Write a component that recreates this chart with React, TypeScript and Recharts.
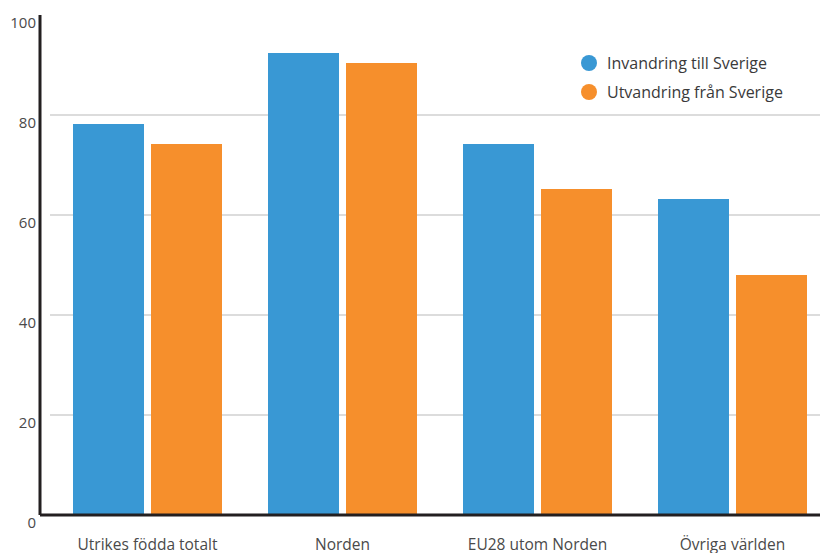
import React from 'react';
import { BarChart, Bar, XAxis, YAxis, CartesianGrid, Legend } from 'recharts';

const categories = ['Utrikes födda totalt', 'Norden', 'EU28 utom Norden', 'Övriga världen'];
const invandring = [78.2, 92.4, 74.2, 63.2];
const utvandring = [74.2, 90.4, 65.2, 48];
const yTicks = [0, 20, 40, 60, 80, 100];
const gridValues = [20, 40, 60, 80];
const seriesNames = ['Invandring till Sverige', 'Utvandring från Sverige'];

const data = categories.map((c, i) => ({ category: c, inv: invandring[i], utv: utvandring[i] }));

const FONT = '"Open Sans", sans-serif';
const BLUE = '#3998d4';
const ORANGE = '#f68f2c';
const AXIS = '#231f20';

const YTick = (props: any) => {
  const { x, y, payload } = props;
  return (
    <text x={x} y={y} dy={13} textAnchor="end" fontFamily={FONT} fontSize={15} fill="#4a4a4a">
      {payload.value}
    </text>
  );
};

const LegendContent = (props: any) => {
  const { payload } = props;
  return (
    <div style={{ fontFamily: FONT, fontSize: 16, color: '#3a3a3a' }}>
      {(payload || []).map((p: any, i: number) => (
        <div key={i} style={{ display: 'flex', alignItems: 'center', height: 29 }}>
          <span style={{ width: 16, height: 16, borderRadius: 8, background: p.color, display: 'inline-block', marginRight: 10 }} />
          <span>{p.value}</span>
        </div>
      ))}
    </div>
  );
};

export default function App() {
  return (
    <div style={{ position: 'absolute', left: 0, top: 0, width: 820, height: 553, overflow: 'hidden', background: '#fff' }}>
      <BarChart
        width={830}
        height={553}
        data={data}
        margin={{ top: 15, right: 0, left: 0, bottom: 0 }}
        barSize={71}
        barGap={7}
      >
        <CartesianGrid vertical={false} horizontalValues={gridValues} stroke="#dcdcdc" strokeWidth={2} x={50} width={780} />
        <XAxis
          dataKey="category"
          padding={{ left: 10, right: 0 }}
          height={38}
          tickLine={false}
          tickSize={0}
          tickMargin={24}
          axisLine={{ stroke: AXIS, strokeWidth: 3 }}
          tick={{ fontFamily: FONT, fontSize: 15.5, fill: '#4a4a4a' }}
          interval={0}
        />
        <YAxis
          width={40}
          domain={[0, 100]}
          ticks={yTicks}
          tickLine={false}
          tickSize={0}
          tickMargin={4}
          axisLine={{ stroke: AXIS, strokeWidth: 3 }}
          tick={<YTick />}
        />
        <Legend
          layout="horizontal"
          verticalAlign="middle"
          align="center"
          content={<LegendContent />}
          wrapperStyle={{ position: 'absolute', left: 581, top: 48, width: 240, height: 60 }}
        />
        <Bar dataKey="inv" name={seriesNames[0]} fill={BLUE} isAnimationActive={false} />
        <Bar dataKey="utv" name={seriesNames[1]} fill={ORANGE} isAnimationActive={false} />
      </BarChart>
    </div>
  );
}
